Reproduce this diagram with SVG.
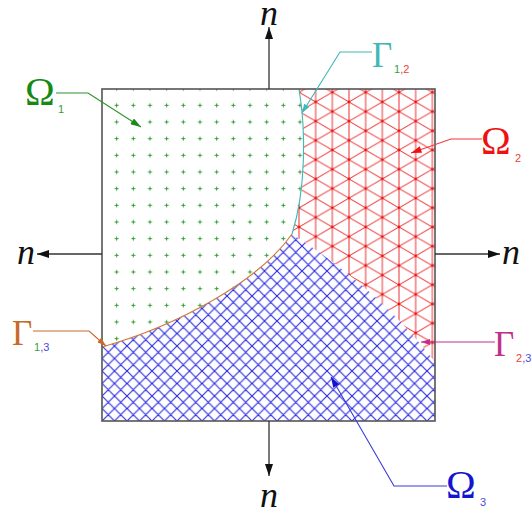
<svg xmlns="http://www.w3.org/2000/svg" width="532" height="517" viewBox="0 0 532 517">
<style>
.sym{font-family:"Liberation Serif","DejaVu Serif",serif;font-size:40px}
.gam{font-family:"Liberation Serif","DejaVu Serif",serif;font-size:35px}
.n{font-family:"Liberation Serif","DejaVu Serif",serif;font-style:italic;font-size:36px;fill:#111}
.sub{font-family:"Liberation Sans","DejaVu Sans",sans-serif;font-size:11px}
.axis{stroke:#333;stroke-width:1.3;fill:none}
.lead{fill:none;stroke-width:1.1}
</style>
<defs>
<pattern id="plus" patternUnits="userSpaceOnUse" x="108.33" y="80.33" width="16.667" height="16.667">
<path d="M6.33 8.33h4M8.33 6.33v4" stroke="#2e9a2e" stroke-width="1"/>
</pattern>
<pattern id="tri" patternUnits="userSpaceOnUse" x="332.33" y="92.33" width="33.333" height="19.245">
<g stroke="#ee3030" stroke-width="1" fill="none">
<path d="M0 0V19.245M16.667 0V19.245M33.333 0V19.245M0 0L33.333 19.245M0 19.245L33.333 0"/>
</g>
<g fill="#e01818">
<circle cx="0" cy="0" r="1.4"/><circle cx="33.333" cy="0" r="1.4"/><circle cx="0" cy="19.245" r="1.4"/><circle cx="33.333" cy="19.245" r="1.4"/><circle cx="16.667" cy="9.622" r="1.4"/>
</g>
</pattern>
<pattern id="hatch" patternUnits="userSpaceOnUse" x="102" y="421" width="12.5" height="12.5">
<path d="M0 0L12.5 12.5M0 12.5L12.5 0M-1 1L1 -1M11.5 13.5L13.5 11.5M-1 11.5L1 13.5M11.5 -1L13.5 1" stroke="#2a2ae2" stroke-width="1.15"/>
</pattern>
<marker id="ah" viewBox="0 0 12 8" refX="12" refY="4" markerWidth="12" markerHeight="8" markerUnits="userSpaceOnUse" orient="auto">
<path d="M0 0L12 4L0 8z" fill="#111"/>
</marker>
<marker id="aG" viewBox="0 0 12 8" refX="12" refY="4" markerWidth="12" markerHeight="7" markerUnits="userSpaceOnUse" orient="auto"><path d="M0 0L12 4L0 8z" fill="#1a8a1a"/></marker>
<marker id="aT" viewBox="0 0 12 8" refX="12" refY="4" markerWidth="10" markerHeight="6" markerUnits="userSpaceOnUse" orient="auto"><path d="M0 0L12 4L0 8z" fill="#3fb8b8"/></marker>
<marker id="aR" viewBox="0 0 12 8" refX="12" refY="4" markerWidth="12" markerHeight="7" markerUnits="userSpaceOnUse" orient="auto"><path d="M0 0L12 4L0 8z" fill="#ee1111"/></marker>
<marker id="aO" viewBox="0 0 12 8" refX="12" refY="4" markerWidth="10" markerHeight="6" markerUnits="userSpaceOnUse" orient="auto"><path d="M0 0L12 4L0 8z" fill="#c86a28"/></marker>
<marker id="aM" viewBox="0 0 12 8" refX="12" refY="4" markerWidth="10" markerHeight="6" markerUnits="userSpaceOnUse" orient="auto"><path d="M0 0L12 4L0 8z" fill="#c0308a"/></marker>
<marker id="aB" viewBox="0 0 12 8" refX="12" refY="4" markerWidth="12" markerHeight="7" markerUnits="userSpaceOnUse" orient="auto"><path d="M0 0L12 4L0 8z" fill="#1515d0"/></marker>
</defs>
<rect width="532" height="517" fill="#fff"/>
<g id="omega1-region">
<path d="M102 89H299C306 130 306 190 292 234C260 280 180 325 102 347Z" fill="url(#plus)"/>
</g>
<g id="omega2-region">
<path d="M299 89H435V362Q380 290 292 234C306 190 306 130 299 89Z" fill="url(#tri)"/>
</g>
<g id="omega3-region">
<path d="M292 234Q380 290 435 362V421H102V347C180 325 260 280 292 234Z" fill="url(#hatch)"/>
</g>
<g id="interfaces">
<path d="M299 89C306 130 306 190 292 234" fill="none" stroke="#3fb8b8" stroke-width="1.1"/>
<path d="M292 234C260 280 180 325 102 347" fill="none" stroke="#d07a3a" stroke-width="1.1"/>
</g>
<g id="domain">
<rect x="102" y="89" width="333" height="332" fill="none" stroke="#555" stroke-width="1.6"/>
</g>
<g id="connectors">
<path class="axis" d="M269 89V27" marker-end="url(#ah)"/>
<path class="axis" d="M102 254H37" marker-end="url(#ah)"/>
<path class="axis" d="M435 254H500" marker-end="url(#ah)"/>
<path class="axis" d="M269 421V476" marker-end="url(#ah)"/>
<path class="lead" stroke="#2a922a" d="M56 93H88L141 127" marker-end="url(#aG)"/>
<path class="lead" stroke="#3fb8b8" d="M372 52H340L302 113" marker-end="url(#aT)"/>
<path class="lead" stroke="#ee3b3b" d="M482 139H451L411 153" marker-end="url(#aR)"/>
<path class="lead" stroke="#c86a28" d="M33 331H89L106 346" marker-end="url(#aO)"/>
<path class="lead" stroke="#c0308a" d="M495 342H421" marker-end="url(#aM)"/>
<path class="lead" stroke="#3a3ae0" d="M447 486H394L331 377" marker-end="url(#aB)"/>
</g>
<g id="label-n-top"><text class="n" x="269" y="25" text-anchor="middle">n</text></g>
<g id="label-n-left"><text class="n" x="26" y="264" text-anchor="middle">n</text></g>
<g id="label-n-right"><text class="n" x="511" y="264" text-anchor="middle">n</text></g>
<g id="label-n-bottom"><text class="n" x="269" y="507" text-anchor="middle">n</text></g>
<g id="label-omega1"><text class="sym" x="25" y="105" fill="#148a14">Ω</text><text class="sub" x="58" y="113" fill="#3a9a3a">1</text></g>
<g id="label-gamma12"><text class="gam" x="372" y="67" fill="#3fb8b8">Γ</text><text class="sub" x="394" y="73"><tspan fill="#3aa03a">1</tspan><tspan fill="#ee3b3b">,2</tspan></text></g>
<g id="label-omega2"><text class="sym" x="481" y="154" fill="#ee1111">Ω</text><text class="sub" x="515" y="162" fill="#ee3b3b">2</text></g>
<g id="label-gamma13"><text class="gam" x="12" y="345" fill="#c86a28">Γ</text><text class="sub" x="34" y="351"><tspan fill="#3aa03a">1</tspan><tspan fill="#4a4ae0">,3</tspan></text></g>
<g id="label-gamma23"><text class="gam" x="494" y="356" fill="#c0308a">Γ</text><text class="sub" x="516" y="362"><tspan fill="#ee3b3b">2</tspan><tspan fill="#4a4ae0">,3</tspan></text></g>
<g id="label-omega3"><text class="sym" x="446" y="498" fill="#1515d0">Ω</text><text class="sub" x="480" y="506" fill="#4a4ae0">3</text></g>
</svg>
